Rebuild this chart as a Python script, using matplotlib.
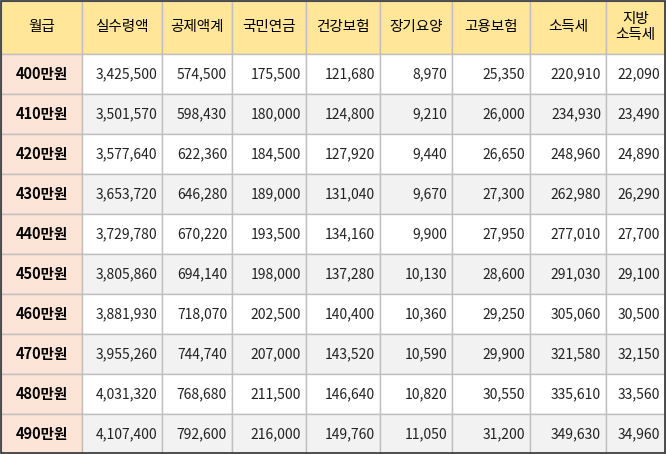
import matplotlib
matplotlib.use("Agg")
import matplotlib.pyplot as plt
from matplotlib.patches import Rectangle

headers = ["월급", "실수령액", "공제액계", "국민연금", "건강보험", "장기요양", "고용보험", "소득세", "지방\n소득세"]
salaries = ["400만원", "410만원", "420만원", "430만원", "440만원", "450만원", "460만원", "470만원", "480만원", "490만원"]
net_pay = [3425500, 3501570, 3577640, 3653720, 3729780, 3805860, 3881930, 3955260, 4031320, 4107400]
deduction = [574500, 598430, 622360, 646280, 670220, 694140, 718070, 744740, 768680, 792600]
pension = [175500, 180000, 184500, 189000, 193500, 198000, 202500, 207000, 211500, 216000]
health = [121680, 124800, 127920, 131040, 134160, 137280, 140400, 143520, 146640, 149760]
longterm = [8970, 9210, 9440, 9670, 9900, 10130, 10360, 10590, 10820, 11050]
employ = [25350, 26000, 26650, 27300, 27950, 28600, 29250, 29900, 30550, 31200]
income_tax = [220910, 234930, 248960, 262980, 277010, 291030, 305060, 321580, 335610, 349630]
local_tax = [22090, 23490, 24890, 26290, 27700, 29100, 30500, 32150, 33560, 34960]

cols = [net_pay, deduction, pension, health, longterm, employ, income_tax, local_tax]
xb = [1, 82, 162, 232, 306, 380, 452, 530, 606, 665]
W, H = 666, 454
hh, rh = 54, 40

fig = plt.figure(figsize=(6.66, 4.54), dpi=100)
ax = fig.add_axes([0, 0, 1, 1])
ax.set_xlim(0, W); ax.set_ylim(H, 0); ax.axis("off")
fn = "Noto Sans CJK KR"
lc = "#BFBFBF"

for c in range(9):
    ax.add_patch(Rectangle((xb[c], 1), xb[c+1]-xb[c], hh-1, fc="#FFE699", ec=lc, lw=1))
    ax.text((xb[c]+xb[c+1])/2, hh/2, headers[c], ha="center", va="center", fontsize=10.5, family=fn, linespacing=1.2)
for r in range(10):
    y0 = hh + r*rh
    bg = "#FFFFFF" if r % 2 == 0 else "#F2F2F2"
    ax.add_patch(Rectangle((xb[0], y0), xb[1]-xb[0], rh, fc="#FCE4D6", ec=lc, lw=1))
    ax.text((xb[0]+xb[1])/2, y0+rh/2, salaries[r], ha="center", va="center", fontsize=10.5, family=fn, fontweight="bold")
    for c in range(8):
        ax.add_patch(Rectangle((xb[c+1], y0), xb[c+2]-xb[c+1], rh, fc=bg, ec=lc, lw=1))
        ax.text(xb[c+2]-5, y0+rh/2, f"{cols[c][r]:,}", ha="right", va="center", fontsize=10, family=fn, color="#222222")
ax.add_patch(Rectangle((1, 1), 664, H-2, fc="none", ec="#333333", lw=1.2))
fig.savefig("out.png", dpi=100)
